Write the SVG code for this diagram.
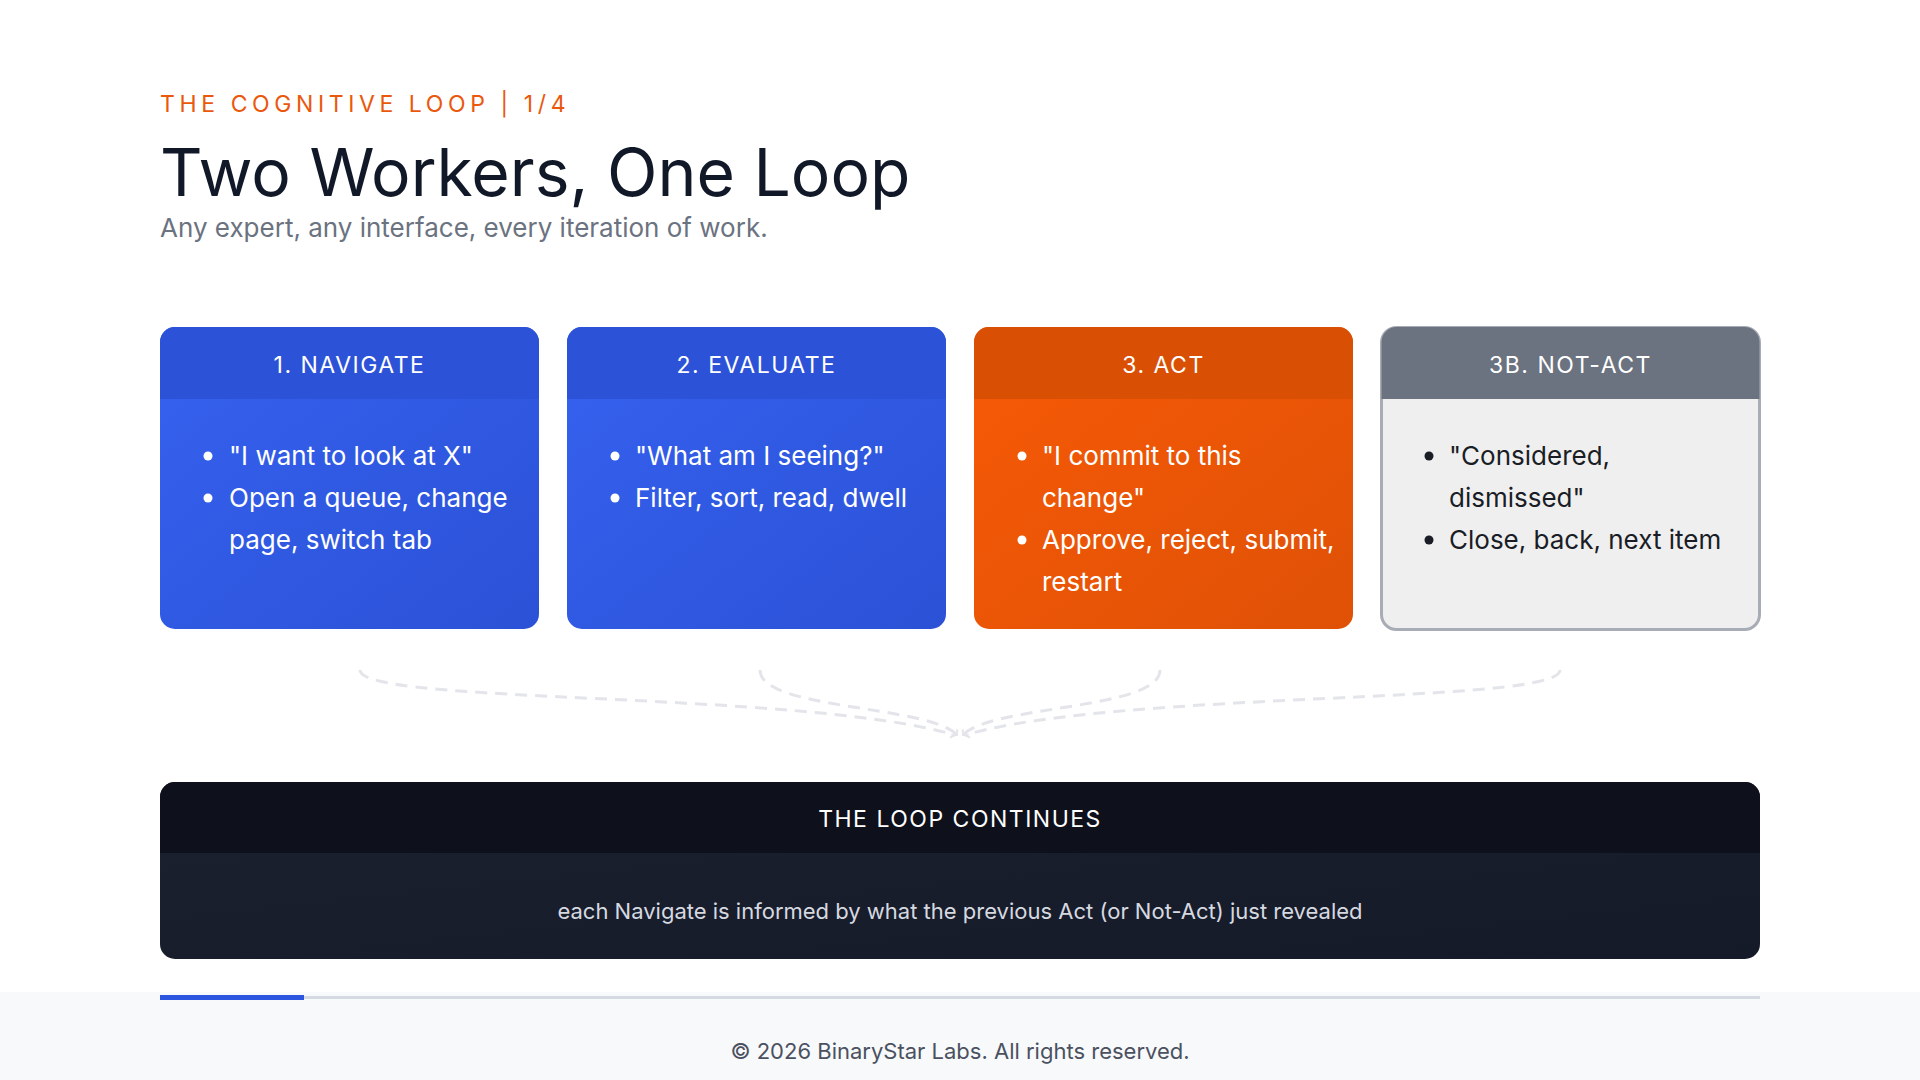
<svg xmlns="http://www.w3.org/2000/svg" width="1920" height="1080" viewBox="0 0 1920 1080">
<defs>
<linearGradient id="gb" x1="0" y1="0" x2="1" y2="1"><stop offset="0" stop-color="#3662f0"/><stop offset="1" stop-color="#2b51d6"/></linearGradient>
<linearGradient id="go" x1="0" y1="0" x2="1" y2="1"><stop offset="0" stop-color="#f75a06"/><stop offset="1" stop-color="#df5106"/></linearGradient>
<linearGradient id="gd" x1="0" y1="0" x2="1" y2="1"><stop offset="0" stop-color="#1c2130"/><stop offset="1" stop-color="#151a28"/></linearGradient>
<marker id="ah" markerWidth="10" markerHeight="10" refX="5" refY="5" orient="auto" markerUnits="userSpaceOnUse"><path d="M1,1 L5,5 L1,9" fill="none" stroke="#e3e5ea" stroke-width="2"/></marker>
</defs>
<style>
.t{font-family:Inter,"Noto Sans",sans-serif}
.hd{font-size:23px;fill:#fff;letter-spacing:1.5px;text-anchor:middle}
.b{font-size:26px;fill:#fff}
.bd{font-size:26px;fill:#1a1d26}
.c{fill:none;stroke:#e3e5ea;stroke-width:3;stroke-dasharray:12 8}
</style>
<rect width="1920" height="1080" fill="#fff"/>
<text class="t" x="160" y="112" font-size="23" fill="#ea580c" letter-spacing="4.6">THE COGNITIVE LOOP | 1/4</text>
<text class="t" x="160" y="196" font-size="66" fill="#111827">Two Workers, One Loop</text>
<text class="t" x="160" y="237" font-size="26" fill="#6b7280">Any expert, any interface, every iteration of work.</text>

<g id="n1">
<rect x="160" y="327" width="379" height="302" rx="15" fill="url(#gb)"/>
<path d="M160,399 V342 a15,15 0 0 1 15,-15 H524 a15,15 0 0 1 15,15 V399 Z" fill="#2c52d8"/>
<text class="t hd" x="349.5" y="373">1. NAVIGATE</text>
<circle cx="208" cy="456" r="4.5" fill="#fff"/><circle cx="208" cy="498" r="4.5" fill="#fff"/>
<text class="t b" x="229" y="465">"I want to look at X"</text>
<text class="t b" x="229" y="507">Open a queue, change</text>
<text class="t b" x="229" y="549">page, switch tab</text>
</g>
<g id="n2">
<rect x="567" y="327" width="379" height="302" rx="15" fill="url(#gb)"/>
<path d="M567,399 V342 a15,15 0 0 1 15,-15 H931 a15,15 0 0 1 15,15 V399 Z" fill="#2c52d8"/>
<text class="t hd" x="756.5" y="373">2. EVALUATE</text>
<circle cx="615" cy="456" r="4.5" fill="#fff"/><circle cx="615" cy="498" r="4.5" fill="#fff"/>
<text class="t b" x="635" y="465">"What am I seeing?"</text>
<text class="t b" x="635" y="507">Filter, sort, read, dwell</text>
</g>
<g id="n3">
<rect x="974" y="327" width="379" height="302" rx="15" fill="url(#go)"/>
<path d="M974,399 V342 a15,15 0 0 1 15,-15 H1338 a15,15 0 0 1 15,15 V399 Z" fill="#d94f04"/>
<text class="t hd" x="1163.5" y="373">3. ACT</text>
<circle cx="1022" cy="456" r="4.5" fill="#fff"/><circle cx="1022" cy="540" r="4.5" fill="#fff"/>
<text class="t b" x="1042" y="465">"I commit to this</text>
<text class="t b" x="1042" y="507">change"</text>
<text class="t b" x="1042" y="549">Approve, reject, submit,</text>
<text class="t b" x="1042" y="591">restart</text>
</g>
<g id="n4">
<rect x="1381.5" y="327.5" width="378" height="302" rx="15" fill="#efefef" stroke="#a8acb6" stroke-width="3"/>
<path d="M1381.5,399 V342 a15,15 0 0 1 15,-15 H1744.5 a15,15 0 0 1 15,15 V399 Z" fill="#6b7280"/>
<text class="t hd" x="1570.5" y="373">3B. NOT-ACT</text>
<circle cx="1429" cy="456" r="4.5" fill="#1a1d26"/><circle cx="1429" cy="540" r="4.5" fill="#1a1d26"/>
<text class="t bd" x="1449" y="465">"Considered,</text>
<text class="t bd" x="1449" y="507">dismissed"</text>
<text class="t bd" x="1449" y="549">Close, back, next item</text>
</g>

<g id="connectors">
<path class="c" d="M360,670 C360,705 800,690 955,735" marker-end="url(#ah)"/>
<path class="c" d="M760,670 C760,710 930,705 957,735" marker-end="url(#ah)"/>
<path class="c" d="M1160,670 C1160,710 990,705 963,735" marker-end="url(#ah)"/>
<path class="c" d="M1560,670 C1560,705 1120,690 965,735" marker-end="url(#ah)"/>
</g>

<g id="loop">
<rect x="160" y="782" width="1600" height="177" rx="15" fill="url(#gd)"/>
<path d="M160,853 V797 a15,15 0 0 1 15,-15 H1745 a15,15 0 0 1 15,15 V853 Z" fill="#0e111c"/>
<text class="t hd" x="960" y="827">THE LOOP CONTINUES</text>
<text class="t" x="960" y="919" font-size="22" fill="#d6d9e0" text-anchor="middle">each Navigate is informed by what the previous Act (or Not-Act) just revealed</text>
</g>

<rect x="0" y="992" width="1920" height="88" fill="#f8f9fb"/>
<rect x="160" y="996" width="1600" height="3" fill="#d5d9e2"/>
<rect x="160" y="995" width="144" height="5" fill="#2c56e0"/>
<text class="t" x="960" y="1059" font-size="22" fill="#4b5160" text-anchor="middle">© 2026 BinaryStar Labs. All rights reserved.</text>
</svg>
